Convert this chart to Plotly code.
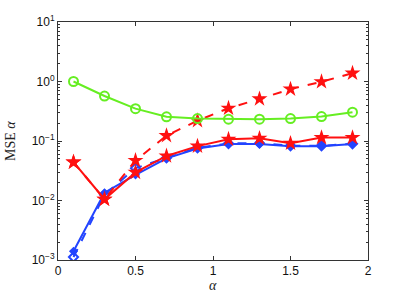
import plotly.graph_objects as go

# alpha values
alpha = [0.1, 0.3, 0.5, 0.7, 0.9, 1.1, 1.3, 1.5, 1.7, 1.9]

# MSE curves
green_circ = [1.0, 0.57, 0.35, 0.255, 0.238, 0.233, 0.233, 0.238, 0.257, 0.305]
red_dash = [0.044, 0.0105, 0.047, 0.123, 0.22, 0.355, 0.51, 0.745, 0.99, 1.38]
red_solid = [0.044, 0.0105, 0.0297, 0.056, 0.082, 0.107, 0.111, 0.0915, 0.114, 0.114]
blue_dash = [0.00112, 0.0125, 0.035, 0.052, 0.077, 0.091, 0.092, 0.083, 0.083, 0.09]
blue_solid = [0.0014, 0.0135, 0.027, 0.051, 0.075, 0.089, 0.089, 0.082, 0.082, 0.089]

# tick labels
x_ticks = [0, 0.5, 1, 1.5, 2]
x_labels = ['0', '0.5', '1', '1.5', '2']
y_ticks = [0.001, 0.01, 0.1, 1, 10]
y_labels = ['10<sup>−3</sup>', '10<sup>−2</sup>', '10<sup>−1</sup>', '10<sup>0</sup>', '10<sup>1</sup>']
y_minor = [k * 10.0 ** e for e in range(-3, 1) for k in range(2, 10)]

GREEN = '#66EE22'
RED = '#FF1010'
BLUE = '#2244FF'

fig = go.Figure()

fig.add_trace(go.Scatter(
    x=alpha, y=blue_dash, mode='lines+markers',
    line=dict(color=BLUE, width=2, dash='dash'),
    marker=dict(symbol='diamond-open', size=7, color=BLUE, line=dict(width=2))
))
fig.add_trace(go.Scatter(
    x=alpha, y=blue_solid, mode='lines+markers',
    line=dict(color=BLUE, width=2),
    marker=dict(symbol='diamond', size=7, color=BLUE)
))
fig.add_trace(go.Scatter(
    x=alpha, y=red_dash, mode='lines+markers',
    line=dict(color=RED, width=2, dash='dash'),
    marker=dict(symbol='star', size=12, color=RED)
))
fig.add_trace(go.Scatter(
    x=alpha, y=red_solid, mode='lines+markers',
    line=dict(color=RED, width=2),
    marker=dict(symbol='star', size=12, color=RED)
))
fig.add_trace(go.Scatter(
    x=alpha, y=green_circ, mode='lines+markers',
    line=dict(color=GREEN, width=2),
    marker=dict(symbol='circle-open', size=9, color=GREEN, line=dict(width=2))
))

axis_style = dict(
    showline=True, linecolor='#333333', linewidth=1, mirror='ticks',
    ticks='inside', tickcolor='#333333', ticklen=4,
    showgrid=False, zeroline=False,
    tickfont=dict(family='Liberation Sans, Arial', size=12, color='#111111'),
)

fig.update_layout(
    width=407, height=293,
    margin=dict(l=58, r=39, t=22, b=33),
    plot_bgcolor='white', paper_bgcolor='white',
    showlegend=False,
    xaxis=dict(range=[0, 2], tickvals=x_ticks, ticktext=x_labels, **axis_style),
    yaxis=dict(type='log', range=[-3, 1], tickvals=y_ticks, ticktext=y_labels,
               minor=dict(ticks='inside', ticklen=2, tickcolor='#333333', tickvals=y_minor),
               **axis_style),
)

fig.add_annotation(text='<i>α</i>', x=0.5, xref='paper', y=-0.108, yref='paper',
                   xanchor='center', yanchor='middle', showarrow=False,
                   font=dict(family='Liberation Serif, Times New Roman', size=14, color='#222222'))
fig.add_annotation(text='MSE <i>α</i>', x=-0.155, xref='paper', y=0.5, yref='paper',
                   textangle=-90, xanchor='center', yanchor='middle', showarrow=False,
                   font=dict(family='Liberation Serif, Times New Roman', size=14, color='#222222'))

# drop the page's default body margin so the figure sits at the window corner
fig.write_html("out.html", config={'displayModeBar': False},
               post_script="document.body.style.margin='0';")
